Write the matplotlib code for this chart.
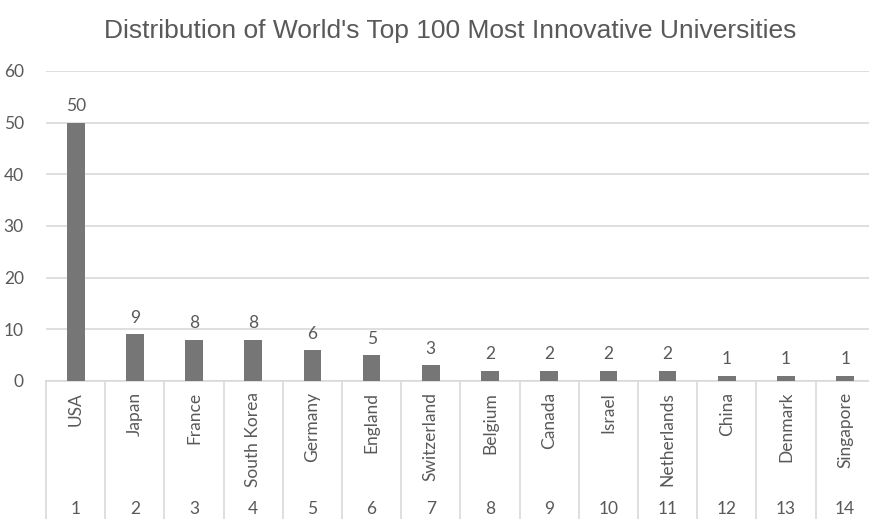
import matplotlib.pyplot as plt

# Data from the chart
countries = ['USA', 'Japan', 'France', 'South Korea', 'Germany', 'England', 'Switzerland',
             'Belgium', 'Canada', 'Israel', 'Netherlands', 'China', 'Denmark', 'Singapore']
ranks = [1, 2, 3, 4, 5, 6, 7, 8, 9, 10, 11, 12, 13, 14]
counts = [50, 9, 8, 8, 6, 5, 3, 2, 2, 2, 2, 1, 1, 1]
yticks = [0, 10, 20, 30, 40, 50, 60]

text_col = '#595959'
grid_col = '#d9d9d9'
body_font = 'Lato'
fs = 12.5

fig = plt.figure(figsize=(8.7, 5.19), dpi=100)
ax = fig.add_axes([0.0529, 0.2659, 0.9526, 0.5973])

x = list(range(len(countries)))
ax.bar(x, counts, width=0.3, color='#767676', zorder=3)
for xi, v in zip(x, counts):
    ax.annotate(str(v), (xi, v), xytext=(0, 6), textcoords='offset points',
                ha='center', va='bottom', fontsize=fs, color=text_col, family=body_font)

ax.set_xlim(-0.5, len(countries) - 0.5)
ax.set_ylim(0, 60)
ax.set_yticks(yticks)
ax.set_yticklabels([str(t) for t in yticks], fontsize=fs, color=text_col, family=body_font)
ax.tick_params(axis='y', length=0, pad=16)
ax.set_xticks([])
ax.grid(axis='y', color=grid_col, linewidth=1.2, zorder=0)
for s in ['top', 'right', 'left']:
    ax.spines[s].set_visible(False)
ax.spines['bottom'].set_color(grid_col)
ax.spines['bottom'].set_linewidth(1.2)

# multi-level category axis below the plot
trans = ax.get_xaxis_transform()
for b in range(len(countries) + 1):
    ax.plot([b - 0.5, b - 0.5], [0, -0.5], transform=trans, color=grid_col,
            linewidth=1.2, clip_on=False)
for xi, name, r in zip(x, countries, ranks):
    ax.text(xi, -0.035, name, transform=trans, rotation=90, ha='center', va='top',
            fontsize=fs, color=text_col, family=body_font)
    ax.text(xi, -0.412, str(r), transform=trans, ha='center', va='center',
            fontsize=fs, color=text_col, family=body_font)

fig.text(0.517, 0.94, "Distribution of World's Top 100 Most Innovative Universities",
         ha='center', va='center', fontsize=19, color=text_col, family='Liberation Sans')

fig.savefig('out.png', dpi=100)
